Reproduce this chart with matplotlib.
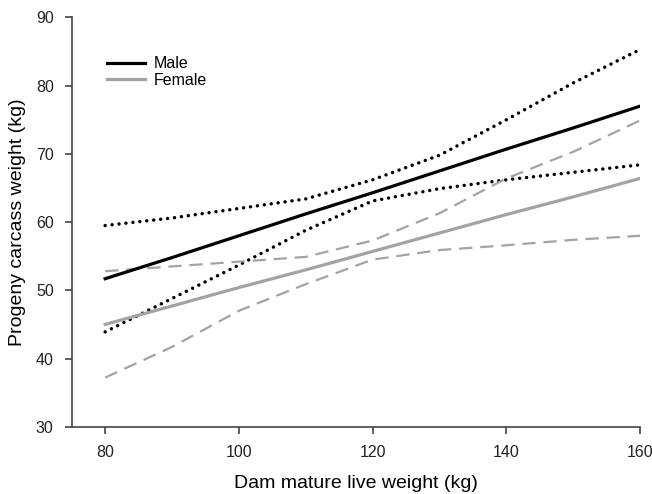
import matplotlib
matplotlib.use("Agg")
import matplotlib.pyplot as plt

plt.rcParams['font.family'] = ['Liberation Sans', 'DejaVu Sans']

# dam mature live weight (kg)
dam_wt = [80, 90, 100, 110, 120, 130, 140, 150, 160]

# male progeny: fitted line and confidence limits
male_fit = [51.7, 54.8, 58.0, 61.2, 64.3, 67.5, 70.7, 73.8, 77.0]
male_upper = [59.5, 60.6, 62.0, 63.4, 66.2, 69.8, 75.0, 80.4, 85.3]
male_lower = [43.9, 48.8, 53.7, 58.8, 63.1, 64.9, 66.2, 67.3, 68.4]

# female progeny
female_fit = [45.0, 47.7, 50.4, 53.0, 55.7, 58.4, 61.1, 63.7, 66.4]
female_upper = [52.8, 53.5, 54.2, 54.9, 57.3, 61.3, 66.4, 70.3, 74.9]
female_lower = [37.2, 41.7, 47.0, 50.9, 54.5, 55.9, 56.6, 57.4, 58.0]

grey = '#a3a3a3'

fig = plt.figure(figsize=(6.52, 4.94), dpi=100)
ax = fig.add_axes([0.110, 0.1362, 0.8716, 0.8284])

ax.plot(dam_wt, male_fit, color='black', lw=2.3, label='Male', zorder=4)
ax.plot(dam_wt, female_fit, color=grey, lw=2.3, label='Female', zorder=3)

dot = (0, (0.01, 2.0))
ax.plot(dam_wt, male_upper, color='black', lw=2.5, linestyle=dot, dash_capstyle='round')
ax.plot(dam_wt, male_lower, color='black', lw=2.5, linestyle=dot, dash_capstyle='round')
dash = (0, (6, 3.5))
ax.plot(dam_wt, female_upper, color=grey, lw=1.6, linestyle=dash)
ax.plot(dam_wt, female_lower, color=grey, lw=1.6, linestyle=dash)

ax.set_xlim(75, 160)
ax.set_ylim(30, 90)
ax.set_xticks([80, 100, 120, 140, 160])
ax.set_yticks([30, 40, 50, 60, 70, 80, 90])

for s in ['top', 'right']:
    ax.spines[s].set_visible(False)
for s in ['left', 'bottom']:
    ax.spines[s].set_color('#444444')
    ax.spines[s].set_linewidth(1.2)
ax.tick_params(direction='out', length=5, width=1.2, color='#444444',
               labelsize=11.5, labelcolor='#222222', pad=8)

ax.set_xlabel('Dam mature live weight (kg)', fontsize=14, labelpad=11)
ax.set_ylabel('Progeny carcass weight (kg)', fontsize=14, labelpad=7)

ax.legend(loc='upper left', bbox_to_anchor=(0.037, 0.94), frameon=False,
          fontsize=11.5, handlelength=2.4, handletextpad=0.5, labelspacing=0.1)

fig.savefig('out.png', dpi=100)
